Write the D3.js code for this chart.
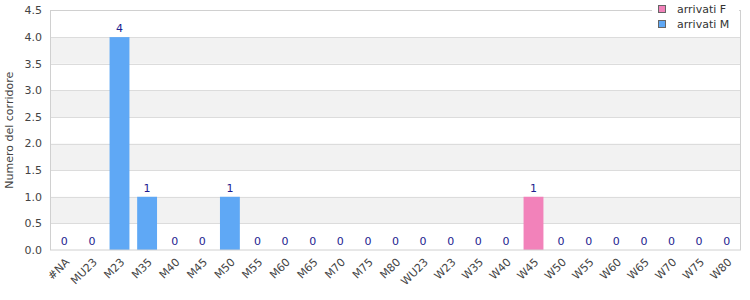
<!DOCTYPE html>
<html><head><meta charset="utf-8">
<script src="https://cdn.jsdelivr.net/npm/d3@7"></script>
<style>body{margin:0;background:#fff;}svg{display:block;font-family:"DejaVu Sans",sans-serif;}</style>
</head><body><svg id="c" width="750" height="300"></svg>
<script>
const categories = ["#NA","MU23","M23","M35","M40","M45","M50","M55","M60","M65","M70","M75","M80","WU23","W23","W35","W40","W45","W50","W55","W60","W65","W70","W75","W80"];
const arrivatiF = [0,0,0,0,0,0,0,0,0,0,0,0,0,0,0,0,0,1,0,0,0,0,0,0,0];
const arrivatiM = [0,0,4,1,0,0,1,0,0,0,0,0,0,0,0,0,0,0,0,0,0,0,0,0,0];
const yTicks = [0,0.5,1,1.5,2,2.5,3,3.5,4,4.5];
const seriesNames = ["arrivati F","arrivati M"];
const colors = {"arrivati F":"#f282ba","arrivati M":"#5fa8f5"};

const svg = d3.select("#c");
const m = {l:50.5, r:740.5, t:10.5, b:250};
const x = d3.scaleBand().domain(categories).range([m.l, m.r]).paddingInner(0.28).paddingOuter(0.14);
const y = d3.scaleLinear().domain([0,4.5]).range([m.b, m.t]);

// alternating bands
for (let i = 0; i < yTicks.length-1; i++) {
  if (i % 2 === 1) {
    svg.append("rect").attr("x", m.l).attr("width", m.r-m.l)
      .attr("y", y(yTicks[i+1])).attr("height", y(yTicks[i]) - y(yTicks[i+1]))
      .attr("fill", "#f2f2f2");
  }
}
// grid lines
svg.append("g").selectAll("line").data(yTicks.slice(1,-1)).join("line")
  .attr("x1", m.l).attr("x2", m.r)
  .attr("y1", d => Math.round(y(d))+0.5).attr("y2", d => Math.round(y(d))+0.5)
  .attr("stroke", "#dcdcdc");

// stacked bars
const rows = categories.map((c,i) => ({cat:c, "arrivati F":arrivatiF[i], "arrivati M":arrivatiM[i]}));
const stack = d3.stack().keys(seriesNames)(rows);
svg.append("g").selectAll("g").data(stack).join("g")
  .attr("fill", d => colors[d.key])
  .selectAll("rect").data(d => d.filter(v => v[1]-v[0] > 0)).join("rect")
  .attr("x", d => x(d.data.cat)).attr("width", x.bandwidth())
  .attr("y", d => y(d[1])).attr("height", d => y(d[0]) - y(d[1]));

// plot border
svg.append("rect").attr("x", m.l).attr("y", m.t).attr("width", m.r-m.l).attr("height", m.b-m.t)
  .attr("fill", "none").attr("stroke", "#d0d0d0");

// value labels (totals)
svg.append("g").selectAll("text").data(rows).join("text")
  .attr("x", d => x(d.cat) + x.bandwidth()/2)
  .attr("y", d => y(d["arrivati F"]+d["arrivati M"]) - 5)
  .attr("text-anchor", "middle").attr("font-size", 11).attr("fill", "#1d1d8f")
  .text(d => d["arrivati F"]+d["arrivati M"]);

// y axis labels
svg.append("g").selectAll("text").data(yTicks).join("text")
  .attr("x", 42).attr("y", d => y(d)).attr("dy", "0.35em")
  .attr("text-anchor", "end").attr("font-size", 11).attr("fill", "#444")
  .text(d => d3.format(".1f")(d));

// x axis labels
svg.append("g").selectAll("text").data(categories).join("text")
  .attr("transform", d => `translate(${x(d)+x.bandwidth()/2+3},${m.b+10}) rotate(-45)`)
  .attr("text-anchor", "end").attr("dy", "0.35em").attr("font-size", 11).attr("fill", "#444")
  .text(d => d);

// y title
svg.append("text").attr("transform", `translate(9,${(m.t+m.b)/2}) rotate(-90)`)
  .attr("text-anchor", "middle").attr("dy", "0.35em").attr("font-size", 11).attr("fill", "#444")
  .text("Numero del corridore");

// legend
const lg = svg.append("g");
lg.append("rect").attr("x", 652).attr("y", 0).attr("width", 87).attr("height", 32).attr("fill", "#fff");
lg.selectAll("g").data(seriesNames).join("g")
  .attr("transform", (d,i) => `translate(658,${9 + i*15})`)
  .each(function(d){
    const g = d3.select(this);
    g.append("rect").attr("x", 0.5).attr("y", -3.5).attr("width", 7).attr("height", 7)
      .attr("fill", colors[d]).attr("stroke", "#666");
    g.append("text").attr("x", 19).attr("y", 0).attr("dy", "0.35em")
      .attr("font-size", 11).attr("fill", "#333").text(d);
  });
</script></body></html>
